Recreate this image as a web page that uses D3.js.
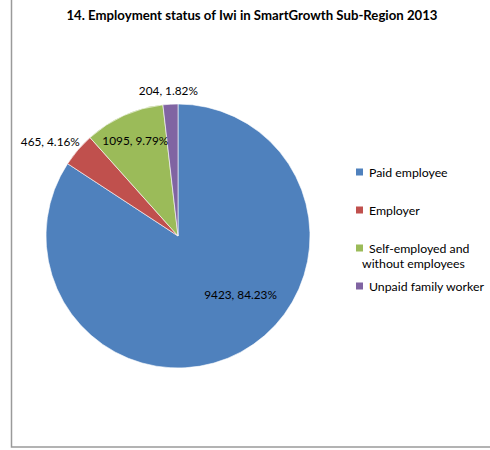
<!DOCTYPE html>
<html>
<head>
<meta charset="utf-8">
<script src="https://cdn.jsdelivr.net/npm/d3@7"></script>
<style>
  body { margin: 0; background: #fff; }
  text { font-family: Lato, "Open Sans", sans-serif; fill: #000; }
</style>
</head>
<body>
<div id="main"></div>
<script>
var categories = ['Paid employee', 'Employer', 'Self-employed and without employees', 'Unpaid family worker'];
var legendLines = [['Paid employee'], ['Employer'], ['Self-employed and', 'without employees'], ['Unpaid family worker']];
var values = [9423, 465, 1095, 204];
var colors = ['#4f81bd', '#c0504d', '#9bbb59', '#8064a2'];
var labelInside = [true, false, true, false];
var title = '14. Employment status of Iwi in SmartGrowth Sub-Region 2013';

var width = 490, height = 450;
var cx = 178, cy = 236, r = 132;

var svg = d3.select('#main')
  .append('svg')
  .attr('width', width)
  .attr('height', height);

// chart frame (only left and bottom edges are inside the picture)
svg.append('rect')
  .attr('x', 11.5)
  .attr('y', -5)
  .attr('width', 490)
  .attr('height', 452)
  .attr('fill', 'none')
  .attr('stroke', '#9a9a9a')
  .attr('stroke-width', 1.5);

svg.append('text')
  .attr('x', 252)
  .attr('y', 20)
  .attr('text-anchor', 'middle')
  .attr('font-size', '13.2px')
  .attr('font-weight', 'bold')
  .text(title);

var total = d3.sum(values);
var data = categories.map(function(c, i) {
  return { name: c, value: values[i], color: colors[i], inside: labelInside[i] };
});

var pie = d3.pie().sort(null).value(function(d) { return d.value; });
var arc = d3.arc().innerRadius(0).outerRadius(r);
var arcs = pie(data);

var g = svg.append('g').attr('transform', 'translate(' + cx + ',' + cy + ')');

g.selectAll('path')
  .data(arcs)
  .enter()
  .append('path')
  .attr('d', arc)
  .attr('fill', function(d) { return d.data.color; })
  .attr('stroke', '#fff')
  .attr('stroke-width', 0.6);

// the big slice label sits off its mid angle (excel best fit)
var labelNudge = { 'Paid employee': [13, -33] };
var inArc = d3.arc().innerRadius(r * 0.79).outerRadius(r * 0.79);

arcs.forEach(function(d) {
  var txt = d.data.value + ', ' + (d.data.value / total * 100).toFixed(2) + '%';
  var t = g.append('text')
    .attr('font-size', '11.8px')
    .attr('text-anchor', 'middle')
    .attr('dy', '0.35em')
    .text(txt);
  var a = (d.startAngle + d.endAngle) / 2;
  var x, y;
  if (d.data.inside) {
    var c = inArc.centroid(d);
    var n = labelNudge[d.data.name] || [0, 0];
    x = c[0] + n[0];
    y = c[1] + n[1];
  } else {
    var w = t.node().getComputedTextLength(), h = 12;
    var pr = r + 7;
    x = Math.sin(a) * pr + Math.sin(a) * w / 2;
    y = -Math.cos(a) * pr - Math.cos(a) * h / 2;
  }
  t.attr('x', x).attr('y', y);
});

// legend
var legend = svg.append('g');
var item = legend.selectAll('g')
  .data(data)
  .enter()
  .append('g')
  .attr('transform', function(d, i) { return 'translate(356,' + (172 + i * 38) + ')'; });

item.append('rect')
  .attr('x', 0)
  .attr('y', -3.5)
  .attr('width', 7)
  .attr('height', 7)
  .attr('fill', function(d) { return d.color; });

item.each(function(d, i) {
  var lines = legendLines[i];
  var t = d3.select(this).append('text')
    .attr('font-size', '12.3px')
    .attr('y', 4.5);
  lines.forEach(function(line, j) {
    t.append('tspan')
      .attr('x', j === 0 ? 13 : 6)
      .attr('dy', j === 0 ? 0 : 15)
      .text(line);
  });
});
</script>
</body>
</html>
